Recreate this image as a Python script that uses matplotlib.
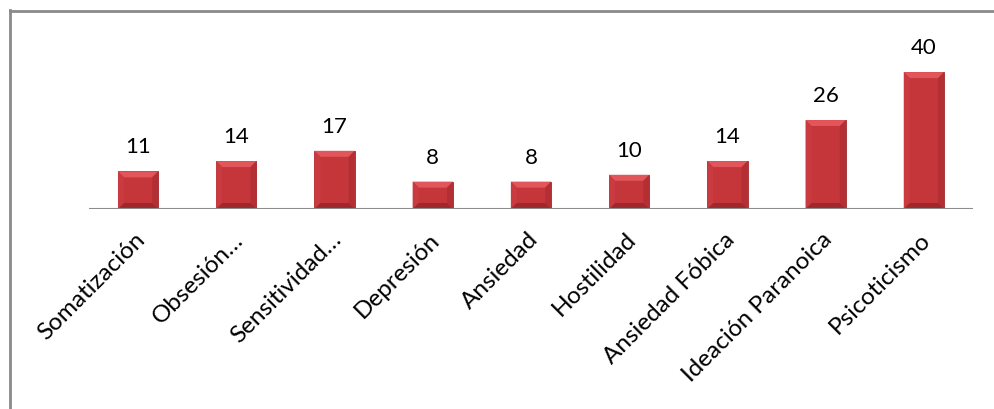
import matplotlib
matplotlib.use("Agg")
import matplotlib.pyplot as plt
from matplotlib.patches import Polygon
from matplotlib.lines import Line2D
import matplotlib.transforms as mtransforms

categories = ["Somatización", "Obsesión…", "Sensitividad…", "Depresión", "Ansiedad",
              "Hostilidad", "Ansiedad Fóbica", "Ideación Paranoica", "Psicoticismo"]
values = [11, 14, 17, 8, 8, 10, 14, 26, 40]

plt.rcParams['font.family'] = ['Lato', 'DejaVu Sans']

W, H = 995, 409
fig = plt.figure(figsize=(W / 100, H / 100), dpi=100)
ax = fig.add_axes([89 / W, (H - 209) / H, (973 - 89) / W, (209 - 55) / H])

x = list(range(len(categories)))
bars = ax.bar(x, values, width=0.41, color="#C4363A", edgecolor="#9E2A2D", linewidth=0.6, zorder=3)
ax.set_xlim(-0.5, len(categories) - 0.5)
ax.set_ylim(0, 45)

for s in ax.spines.values():
    s.set_visible(False)
ax.axhline(0, color="#8C8C8C", linewidth=1.5, zorder=4)
ax.set_yticks([])
ax.set_xticks([])

# bevel shading computed from each bar's extent
fig.canvas.draw()
inv = ax.transData
bev = 6
for b in bars:
    x0, y0 = inv.transform((b.get_x(), 0))
    x1, y1 = inv.transform((b.get_x() + b.get_width(), b.get_height()))
    d = min(bev, (y1 - y0) / 2)
    top = [(x0, y1), (x1, y1), (x1 - d, y1 - d), (x0 + d, y1 - d)]
    left = [(x0, y0), (x0, y1), (x0 + d, y1 - d), (x0 + d, y0 + d)]
    right = [(x1, y0), (x1, y1), (x1 - d, y1 - d), (x1 - d, y0 + d)]
    bottom = [(x0, y0), (x1, y0), (x1 - d, y0 + d), (x0 + d, y0 + d)]
    for pts, col in [(top, "#E2555A"), (left, "#C93B40"), (right, "#B32F33"), (bottom, "#A0282C")]:
        ax.add_patch(Polygon(pts, closed=True, transform=None, facecolor=col,
                             edgecolor="none", zorder=3.5))

for xi, v in zip(x, values):
    ax.annotate(str(v), (xi, v), xytext=(0, 10), textcoords="offset points",
                ha="center", va="bottom", fontsize=16, color="#000000")

for xi, lab in zip(x, categories):
    t = mtransforms.offset_copy(ax.transData, fig=fig, x=-4, y=-20, units="dots")
    ax.text(xi, 0, lab, transform=t, rotation=45, rotation_mode="anchor",
            ha="right", va="top", fontsize=17.5, color="#000000")

# outer chart-area frame (left and top visible)
fig.add_artist(Line2D([10.5 / W, 10.5 / W], [0, 1 - 10 / H], transform=fig.transFigure,
                      color="#8A8A8A", linewidth=2))
fig.add_artist(Line2D([10 / W, 1], [1 - 10.5 / H, 1 - 10.5 / H], transform=fig.transFigure,
                      color="#8A8A8A", linewidth=2))

fig.savefig("out.png", dpi=100)
